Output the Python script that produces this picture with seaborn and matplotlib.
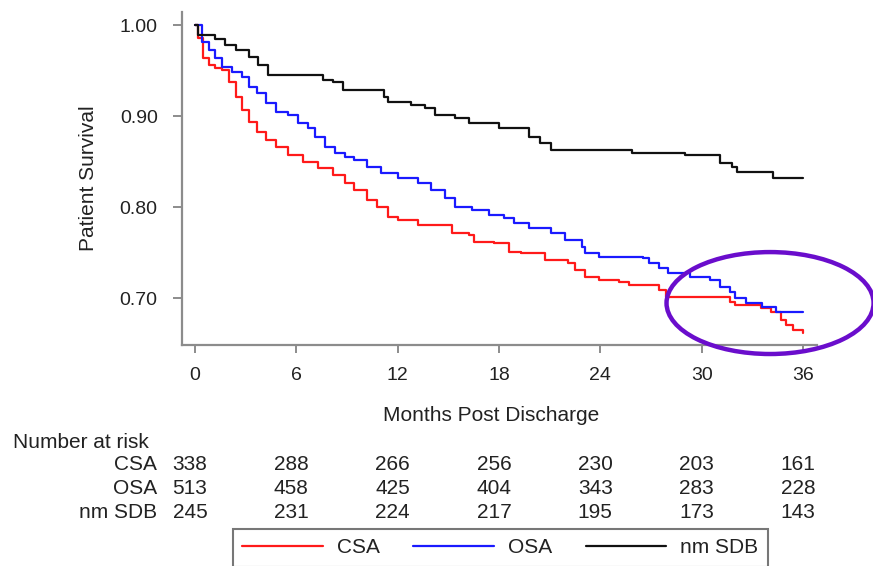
import matplotlib
matplotlib.use('Agg')
import matplotlib.pyplot as plt
import matplotlib.transforms as mtransforms
from matplotlib.patches import Ellipse
import seaborn as sns

# Kaplan-Meier style step curves (months, survival)
csa_t = [0, 0.2, 0.5, 0.8, 1.2, 1.6, 2.0, 2.4, 2.8, 3.2, 3.7, 4.2, 4.8, 5.5, 6.4, 7.3, 8.2, 8.9,
         9.4, 10.2, 10.8, 11.4, 12.0, 13.2, 15.2, 16.2, 16.5, 17.7, 18.6, 19.3, 20.7, 22.1, 22.5,
         23.1, 23.9, 25.1, 25.7, 27.5, 27.9, 31.7, 32.0, 33.5, 34.1, 34.7, 35.0, 35.4, 36.0]
csa_s = [1.0, 0.986, 0.964, 0.956, 0.953, 0.951, 0.937, 0.921, 0.907, 0.893, 0.882, 0.874, 0.866,
         0.857, 0.849, 0.843, 0.835, 0.826, 0.819, 0.808, 0.800, 0.789, 0.786, 0.780, 0.772, 0.769,
         0.762, 0.760, 0.751, 0.750, 0.742, 0.738, 0.731, 0.723, 0.720, 0.718, 0.714, 0.709, 0.701,
         0.696, 0.692, 0.689, 0.685, 0.676, 0.670, 0.665, 0.662]

osa_t = [0, 0.4, 0.8, 1.2, 1.6, 2.2, 2.8, 3.2, 3.7, 4.2, 4.8, 5.5, 6.1, 6.7, 7.1, 7.7, 8.3, 8.9,
         9.4, 10.2, 11.0, 12.0, 13.2, 14.0, 14.8, 15.4, 16.4, 17.4, 18.3, 18.9, 19.8, 21.1, 21.9,
         22.9, 23.1, 23.9, 26.5, 26.9, 27.5, 28.0, 29.3, 30.5, 31.1, 31.7, 32.0, 32.6, 33.6, 34.4, 36.0]
osa_s = [1.0, 0.981, 0.973, 0.964, 0.954, 0.948, 0.943, 0.932, 0.925, 0.914, 0.904, 0.901, 0.892,
         0.887, 0.877, 0.866, 0.859, 0.855, 0.852, 0.844, 0.837, 0.832, 0.826, 0.819, 0.810, 0.800,
         0.797, 0.791, 0.788, 0.782, 0.777, 0.771, 0.764, 0.756, 0.749, 0.745, 0.744, 0.738, 0.733,
         0.727, 0.723, 0.720, 0.712, 0.707, 0.700, 0.695, 0.690, 0.685, 0.685]

nmsdb_t = [0, 0.2, 1.2, 1.8, 2.4, 3.2, 3.75, 4.35, 7.6, 8.2, 8.75, 11.2, 11.4, 12.8, 13.6, 14.2,
           15.4, 16.2, 18.0, 19.8, 20.4, 21.1, 25.9, 29.0, 31.1, 31.8, 32.1, 34.2, 36.0]
nmsdb_s = [1.0, 0.989, 0.985, 0.978, 0.973, 0.965, 0.956, 0.945, 0.940, 0.937, 0.929, 0.921, 0.915,
           0.912, 0.909, 0.901, 0.898, 0.892, 0.887, 0.877, 0.870, 0.863, 0.859, 0.857, 0.848,
           0.844, 0.838, 0.832, 0.832]

# number at risk table
risk_times = [0, 6, 12, 18, 24, 30, 36]
groups = ['CSA', 'OSA', 'nm SDB']
risk_csa = [338, 288, 266, 256, 230, 203, 161]
risk_osa = [513, 458, 425, 404, 343, 283, 228]
risk_nmsdb = [245, 231, 224, 217, 195, 173, 143]

sns.set_style('white')
plt.rcParams['font.family'] = ['Liberation Sans', 'DejaVu Sans']

W, H = 873, 566
fig = plt.figure(figsize=(W / 100, H / 100), dpi=100)
ax = fig.add_axes([182 / W, 1 - 345 / H, (817 - 182) / W, (345 - 12) / H])

sns.lineplot(x=csa_t, y=csa_s, ax=ax, color='#ff1a1a', lw=1.6, drawstyle='steps-post',
             estimator=None, sort=False, label='CSA')
sns.lineplot(x=osa_t, y=osa_s, ax=ax, color='#1a1aff', lw=1.6, drawstyle='steps-post',
             estimator=None, sort=False, label='OSA')
sns.lineplot(x=nmsdb_t, y=nmsdb_s, ax=ax, color='#111111', lw=1.6, drawstyle='steps-post',
             estimator=None, sort=False, label='nm SDB')

ax.set_xlim(-0.77, 36.83)
ax.set_ylim(0.6484, 1.0143)
ax.set_xticks(risk_times)
ax.set_yticks([0.7, 0.8, 0.9, 1.0])
ax.set_yticklabels(['0.70', '0.80', '0.90', '1.00'])

for side in ['top', 'right']:
    ax.spines[side].set_visible(False)
for side in ['left', 'bottom']:
    ax.spines[side].set_color('#8c8c8c')
    ax.spines[side].set_linewidth(1.6)
ax.tick_params(axis='y', length=6.5, width=1.4, color='#8c8c8c', pad=11,
               labelsize=14, labelcolor='#222222', left=True)
ax.tick_params(axis='x', length=6, width=1.4, color='#8c8c8c', pad=10,
               labelsize=14, labelcolor='#222222', bottom=True)

ax.set_ylabel('Patient Survival', fontsize=15, color='#222222')
ax.yaxis.set_label_coords(-0.1325, 0.5)
ax.set_xlabel('Months Post Discharge', fontsize=15, color='#222222')
ax.xaxis.set_label_coords(0.487, -0.183)

# highlight circle
ax.add_patch(Ellipse((34.05, 0.6945), 12.26, 0.112, fill=False, ec='#6a0dcc', lw=3.2,
                     clip_on=False, zorder=5))

# number at risk
trans = mtransforms.blended_transform_factory(ax.transData, fig.transFigure)
fig.text(13 / W, 1 - 443 / H, 'Number at risk', fontsize=15, color='#222222',
         ha='left', va='center')
rows_y = [465, 489, 512]
for name, counts, yp in zip(groups, [risk_csa, risk_osa, risk_nmsdb], rows_y):
    fig.text(157 / W, 1 - yp / H, name, fontsize=15, color='#222222', ha='right', va='center')
    for t, n in zip(risk_times, counts):
        ax.text(t - 0.3, 1 - yp / H, str(n), transform=trans, fontsize=15, color='#222222',
                ha='center', va='center')

leg = ax.legend(loc='upper left', bbox_to_anchor=(233 / W, 1 - 529 / H),
                bbox_transform=fig.transFigure, ncol=3, frameon=True, fancybox=False,
                edgecolor='#555555', fontsize=15, handlelength=3.85, handletextpad=0.7,
                columnspacing=1.6, borderpad=0.45, borderaxespad=0)
leg.get_frame().set_linewidth(1.5)
for txt in leg.get_texts():
    txt.set_color('#222222')

plt.savefig('out.png', dpi=100)
